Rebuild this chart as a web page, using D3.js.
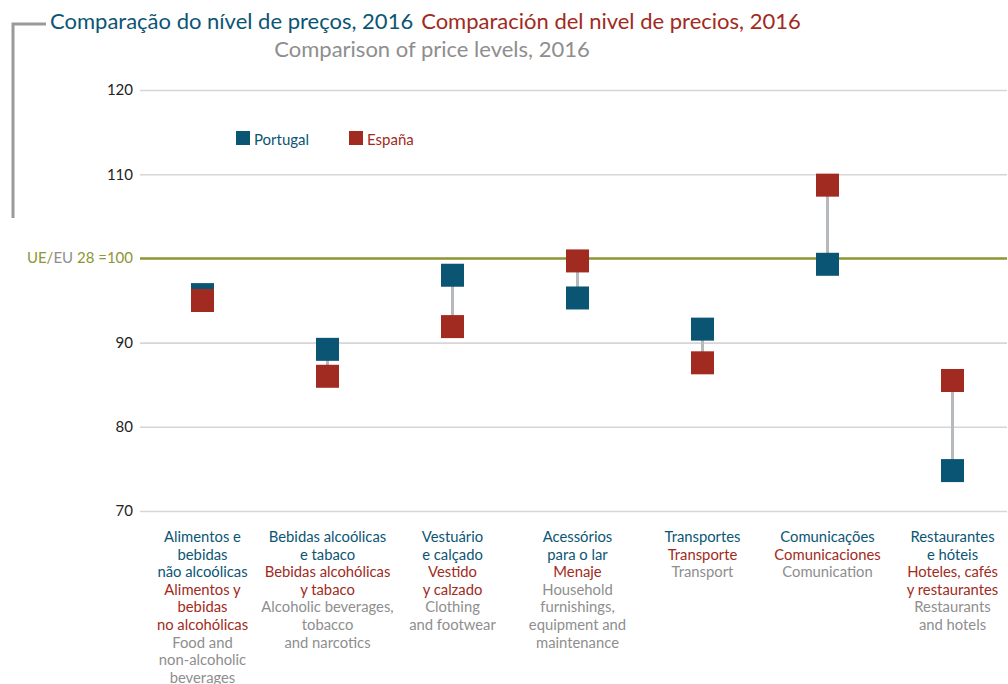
<!DOCTYPE html>
<html>
<head>
<meta charset="utf-8">
<script src="https://cdn.jsdelivr.net/npm/d3@7"></script>
<style>
  body { margin: 0; background: #fff; }
  svg { display: block; font-family: Lato, "Open Sans", sans-serif; }
</style>
</head>
<body>
<div id="chart"></div>
<script>
const width = 1008;
const height = 684;

const teal = "#0b5574";
const red = "#a12a21";
const grey = "#8e8e8e";
const olive = "#8c9632";

// data
const categoriesPt = [
  ["Alimentos e", "bebidas", "não alcoólicas"],
  ["Bebidas alcoólicas", "e tabaco"],
  ["Vestuário", "e calçado"],
  ["Acessórios", "para o lar"],
  ["Transportes"],
  ["Comunicações"],
  ["Restaurantes", "e hóteis"],
];
const categoriesEs = [
  ["Alimentos y", "bebidas", "no alcohólicas"],
  ["Bebidas alcohólicas", "y tabaco"],
  ["Vestido", "y calzado"],
  ["Menaje"],
  ["Transporte"],
  ["Comunicaciones"],
  ["Hoteles, cafés", "y restaurantes"],
];
const categoriesEn = [
  ["Food and", "non-alcoholic", "beverages"],
  ["Alcoholic beverages,", "tobacco", "and narcotics"],
  ["Clothing", "and footwear"],
  ["Household", "furnishings,", "equipment and", "maintenance"],
  ["Transport"],
  ["Comunication"],
  ["Restaurants", "and hotels"],
];
const portugal = [95.7, 89.2, 98.0, 95.3, 91.6, 99.3, 74.8];
const espana = [95.0, 86.0, 91.9, 99.7, 87.6, 108.7, 85.5];
const yTicks = [70, 80, 90, 110, 120];
const baseline = 100;

const svg = d3.select("#chart").append("svg")
  .attr("width", width)
  .attr("height", height);

const x = d3.scaleBand()
  .domain(d3.range(portugal.length))
  .range([140, 1015]);

const y = d3.scaleLinear()
  .domain([70, 120])
  .range([511, 90]);

// bracket
svg.append("path")
  .attr("d", "M13,218 V24 H46")
  .attr("fill", "none")
  .attr("stroke", "#9a9a9a")
  .attr("stroke-width", 3);

// titles
const t1 = svg.append("text").attr("x", 50).attr("y", 29).attr("font-size", 22);
t1.append("tspan").attr("fill", teal).text("Comparação do nível de preços, 2016");
t1.append("tspan").attr("fill", red).attr("dx", 8).text("Comparación del nivel de precios, 2016");
svg.append("text")
  .attr("x", 432).attr("y", 57)
  .attr("text-anchor", "middle")
  .attr("font-size", 22)
  .attr("fill", grey)
  .text("Comparison of price levels, 2016");

// grid
const yAxis = svg.append("g")
  .attr("transform", "translate(140,0)")
  .call(d3.axisLeft(y).tickValues(yTicks).tickSize(-867).tickPadding(7));
yAxis.select(".domain").remove();
yAxis.selectAll(".tick line").attr("stroke", "#d6d6d6").attr("stroke-width", 1.6);
yAxis.selectAll(".tick text")
  .attr("font-size", 15).attr("fill", "#222")
  .attr("font-family", "Lato, 'Open Sans', sans-serif");

// baseline 100
svg.append("line")
  .attr("x1", 140).attr("x2", 1007)
  .attr("y1", y(baseline)).attr("y2", y(baseline))
  .attr("stroke", olive).attr("stroke-width", 2.5);
const bl = svg.append("text")
  .attr("x", 133).attr("y", y(baseline) + 5)
  .attr("text-anchor", "end").attr("font-size", 15);
bl.append("tspan").attr("fill", olive).text("UE/");
bl.append("tspan").attr("fill", grey).text("EU");
bl.append("tspan").attr("fill", olive).text(" 28 =100");

// connectors
const cx = (i) => x(i) + x.bandwidth() / 2;
svg.append("g").selectAll("line")
  .data(portugal)
  .join("line")
  .attr("x1", (d, i) => cx(i)).attr("x2", (d, i) => cx(i))
  .attr("y1", (d) => y(d))
  .attr("y2", (d, i) => y(espana[i]))
  .attr("stroke", "#b7babd").attr("stroke-width", 3);

const size = 23;
function squares(values, color) {
  svg.append("g").selectAll("rect")
    .data(values)
    .join("rect")
    .attr("x", (d, i) => cx(i) - size / 2)
    .attr("y", (d) => y(d) - size / 2)
    .attr("width", size).attr("height", size)
    .attr("fill", color);
}
squares(portugal, teal);
squares(espana, red);

// legend
const legend = [["Portugal", teal, 236], ["España", red, 349]];
legend.forEach(([name, color, lx]) => {
  svg.append("rect").attr("x", lx).attr("y", 131).attr("width", 14).attr("height", 14).attr("fill", color);
  svg.append("text").attr("x", lx + 18).attr("y", 145).attr("font-size", 15).attr("fill", color).text(name);
});

// category labels
const lineH = 17.6;
categoriesPt.forEach((pt, i) => {
  const lines = [
    ...pt.map((s) => [s, teal]),
    ...categoriesEs[i].map((s) => [s, red]),
    ...categoriesEn[i].map((s) => [s, grey]),
  ];
  svg.append("g").selectAll("text")
    .data(lines)
    .join("text")
    .attr("x", cx(i))
    .attr("y", (d, j) => 542 + j * lineH)
    .attr("text-anchor", "middle")
    .attr("font-size", 14.8)
    .attr("fill", (d) => d[1])
    .text((d) => d[0]);
});
</script>
</body>
</html>
